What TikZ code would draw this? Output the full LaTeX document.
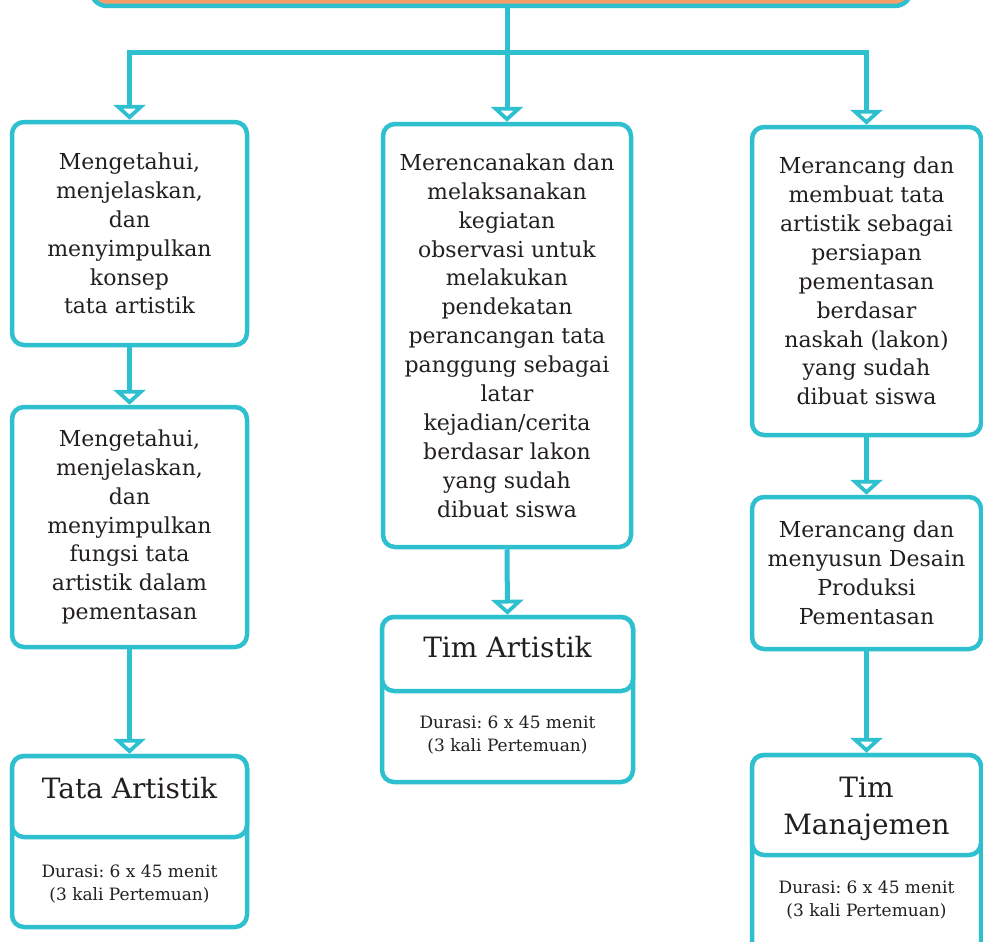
\documentclass[tikz,border=0pt]{standalone}
\usepackage{fontspec}
\setmainfont{DejaVu Serif}
\usetikzlibrary{arrows.meta}
\definecolor{tealc}{RGB}{46,192,206}
\definecolor{orangec}{RGB}{247,157,106}
\definecolor{txtc}{RGB}{35,31,32}
\newcommand{\bodyf}{\fontsize{22}{28.9}\selectfont}
\newcommand{\titlef}{\fontsize{28}{37}\selectfont}
\newcommand{\durf}{\fontsize{17}{23.5}\selectfont}
\frenchspacing
\tikzset{
  cbox/.style={draw=tealc, line width=4.5pt, rounded corners=12pt, fill=white,
    inner sep=0pt, align=center, text=txtc, font=\bodyf},
  conn/.style={draw=tealc, line width=5pt,
    -{Triangle[open, width=32pt, length=15pt, line width=5pt]}},
  ttl/.style={text=txtc, font=\titlef, inner sep=0pt, anchor=base},
  dur/.style={text=txtc, font=\durf, inner sep=0pt, align=center}
}
\begin{document}
\begin{tikzpicture}[x=1pt,y=-1pt]
\useasboundingbox (0,0) rectangle (983,942);
\clip (0,0) rectangle (983,942);
\fill[white] (0,0) rectangle (983,942);

% top bar
\node[draw=tealc, fill=orangec, line width=4.5pt, rounded corners=16pt,
  minimum width=820pt, minimum height=60pt, inner sep=0pt] (top) at (501,-24) {};
\coordinate (hub) at (507,53);

% left column
\node[cbox, minimum width=235pt, minimum height=223pt] (L1) at (129.5,233.5)
  {Mengetahui,\\ menjelaskan,\\ dan\\ menyimpulkan\\ konsep\\ tata artistik};
\node[cbox, minimum width=235pt, minimum height=240pt] (L2) at (129.5,527)
  {Mengetahui,\\ menjelaskan,\\ dan\\ menyimpulkan\\ fungsi tata\\ artistik dalam\\ pementasan};
\node[cbox, minimum width=235pt, minimum height=171pt] (L3) at (129.5,841.5) {};
\node[cbox, minimum width=235pt, minimum height=81pt] (L3h) at (129.5,796.5) {};
\node[ttl] (L3t) at (129.5,798) {Tata Artistik};
\node[dur] (L3d) at (129.5,884) {Durasi: 6 x 45 menit\\ (3 kali Pertemuan)};

% center column
\node[cbox, minimum width=248pt, minimum height=423pt] (C1) at (507,335.5)
  {Merencanakan dan\\ melaksanakan\\ kegiatan\\ observasi untuk\\ melakukan\\ pendekatan\\ perancangan tata\\ panggung sebagai\\ latar\\ kejadian/cerita\\ berdasar lakon\\ yang sudah\\ dibuat siswa};
\node[cbox, minimum width=251pt, minimum height=165pt] (C2) at (507.5,699.5) {};
\node[cbox, minimum width=251pt, minimum height=74pt] (C2h) at (507.5,654) {};
\node[ttl] (C2t) at (507.5,657) {Tim Artistik};
\node[dur] (C2d) at (507.5,735) {Durasi: 6 x 45 menit\\ (3 kali Pertemuan)};

% right column
\node[cbox, minimum width=229pt, minimum height=308pt] (R1) at (866.5,281)
  {Merancang dan\\ membuat tata\\ artistik sebagai\\ persiapan\\ pementasan\\ berdasar\\ naskah (lakon)\\ yang sudah\\ dibuat siswa};
\node[cbox, minimum width=229pt, minimum height=152pt] (R2) at (866.5,573)
  {Merancang dan\\ menyusun Desain\\ Produksi\\ Pementasan};
\node[cbox, minimum width=229pt, minimum height=200pt] (R3) at (866.5,855) {};
\node[cbox, minimum width=229pt, minimum height=100pt] (R3h) at (866.5,805) {};
\node[ttl] (R3t1) at (866.5,797) {Tim};
\node[ttl] (R3t2) at (866.5,834) {Manajemen};
\node[dur] (R3d) at (866.5,900) {Durasi: 6 x 45 menit\\ (3 kali Pertemuan)};

% connectors
\draw[draw=tealc, line width=5pt] (hub |- top.south) -- (hub);
\draw[conn] (hub) -- (C1.north);
\draw[conn] (hub) -| (L1.north);
\draw[conn] (hub) -| (R1.north);
\draw[conn] (L1.south) -- (L2.north);
\draw[conn] (L2.south) -- (L3.north);
\draw[conn] (C1.south) -- (C2.north);
\draw[conn] (R1.south) -- (R2.north);
\draw[conn] (R2.south) -- (R3.north);
\end{tikzpicture}
\end{document}
